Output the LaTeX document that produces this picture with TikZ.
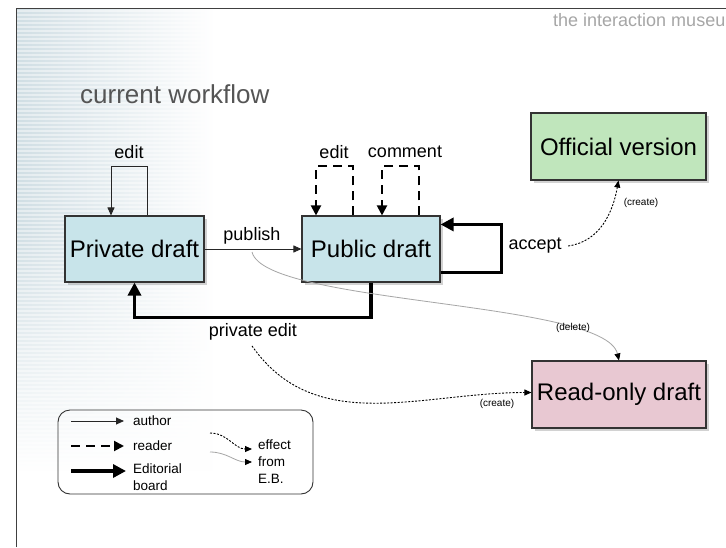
\documentclass[tikz,border=0pt]{standalone}
\usepackage{fontspec}
\setmainfont{Liberation Sans}
\usetikzlibrary{arrows.meta,shadows,fadings}
\definecolor{draftblue}{RGB}{200,228,234}
\definecolor{officialgreen}{RGB}{192,230,188}
\definecolor{readonlypink}{RGB}{232,200,210}
\definecolor{stripeblue}{RGB}{208,222,228}
\definecolor{titlegray}{RGB}{85,85,85}

\begin{document}
\begin{tikzpicture}[x=1pt, y=-1pt,
  state/.style={draw=black!80, line width=1.1pt, inner sep=0pt, minimum height=66pt,
    font=\fontsize{24}{28}\selectfont,
    drop shadow={shadow xshift=2.5pt, shadow yshift=-2.5pt, opacity=0.35}},
  lbl/.style={font=\fontsize{18}{21}\selectfont},
  tiny/.style={font=\fontsize{10}{12}\selectfont, inner sep=1pt},
  key/.style={font=\fontsize{13.5}{16.5}\selectfont, anchor=west, align=left, inner sep=1pt},
  author/.style={draw=black!85, line width=0.9pt, -{Triangle[length=8pt,width=7pt]}},
  reader/.style={line width=2pt, dash pattern=on 9pt off 6pt, -{Triangle[length=10pt,width=10pt]}},
  editorial/.style={line width=3.2pt, -{Triangle[length=13pt,width=13pt]}},
  effect/.style={line width=0.9pt, dash pattern=on 2pt off 1.5pt, -{Triangle[length=7pt,width=6pt]}},
  fromeb/.style={draw=black!35, line width=0.8pt, -{Triangle[length=7pt,width=6pt,color=black]}}]
\useasboundingbox (0,0) rectangle (726,547);
\fill[white] (0,0) rectangle (726,547);
\shade[left color=stripeblue, right color=white] (17,9) rectangle (215,470);
\foreach \y in {11,15,...,467}
  \draw[white, opacity=0.45, line width=1.2pt] (17,\y) -- (215,\y);
\fill[white, path fading=north] (17,230) rectangle (215,471);
\draw[black!75, line width=1pt] (16,547) -- (16,8) -- (726,8);
\node[anchor=base west, inner sep=0pt, text=black!35, font=\fontsize{18}{22}\selectfont] (museum) at (553,26) {the interaction museum};
\node[anchor=base west, inner sep=0pt, text=titlegray, font=\fontsize{26}{30}\selectfont] (title) at (80,103) {current workflow};

\node[state, fill=draftblue, minimum width=139pt] (private) at (134.5,249) {Private draft};
\node[state, fill=draftblue, minimum width=138pt] (public) at (371,249) {Public draft};
\node[state, fill=officialgreen, minimum width=175pt, minimum height=67pt] (official) at (618.5,146.5) {Official version};
\node[state, fill=readonlypink, minimum width=174pt, minimum height=67pt] (readonly) at (619,394.5) {Read-only draft};

\node[lbl] (privedit) at (129,152) {edit};
\node[lbl] (pubedit) at (334,152) {edit};
\node[lbl] (comment) at (405,152) {comment};
\node[lbl] (publish) at (252,236) {publish};
\node[lbl, anchor=west] (accept) at (505,246) {accept};
\node[lbl] (privateedit) at (253,332) {private edit};
\node[tiny] (createoff) at (641,203) {(create)};
\node[tiny] (createro) at (497,404) {(create)};

\draw[author] ([xshift=12.5pt]private.north) -- ++(0,-49) -| ([xshift=-23.5pt]private.north);
\draw[reader] ([xshift=-18pt]public.north) -- ++(0,-49) -| ([xshift=-55pt]public.north);
\draw[reader] ([xshift=48pt]public.north) -- ++(0,-49) -| ([xshift=11pt]public.north);
\draw[author] (private) -- (public);
\draw[editorial] ([yshift=10pt]public.south east) -- ++(61,0) |- ([yshift=-9pt]public.north east);
\draw[editorial] (public.south) -- ++(0,35) -| (private.south);
\draw[effect] ([xshift=3pt]accept.east) to[out=8,in=-100] (official.south);
\draw[effect] ([xshift=-1pt,yshift=-2pt]privateedit.south) to[out=-55,in=180] ([yshift=2pt]readonly.west);
\coordinate (pubmid) at (252,252);
\draw[fromeb] (pubmid) .. controls (265,305) and (605,300) .. (readonly.north);
\node[tiny] (delete) at (573,328) {(delete)};

\node[draw=black!80, line width=0.9pt, rounded corners=12pt, minimum width=255pt, minimum height=84pt] (legend) at (185.5,452) {};
\node[key] (kauthor) at (132,421) {author};
\node[key] (kreader) at (132,446) {reader};
\node[key] (keditorial) at (132,477) {Editorial\\board};
\node[key] (keffect) at (257,445) {effect};
\node[key] (kfromeb) at (257,470) {from\\E.B.};
\draw[author] ([xshift=-61pt]kauthor.west) -- ([xshift=-8pt]kauthor.west);
\draw[reader] ([xshift=-61pt]kreader.west) -- ([xshift=-8pt]kreader.west);
\draw[editorial] ([xshift=-61pt,yshift=6pt]keditorial.west) -- ([xshift=-6pt,yshift=6pt]keditorial.west);
\draw[effect] ([xshift=-47pt,yshift=12pt]keffect.west) to[out=0,in=180] ([xshift=-5pt,yshift=-4pt]keffect.west);
\draw[fromeb] ([xshift=-47pt,yshift=18pt]kfromeb.west) to[out=0,in=180] ([xshift=-5pt,yshift=8pt]kfromeb.west);
\end{tikzpicture}
\end{document}
